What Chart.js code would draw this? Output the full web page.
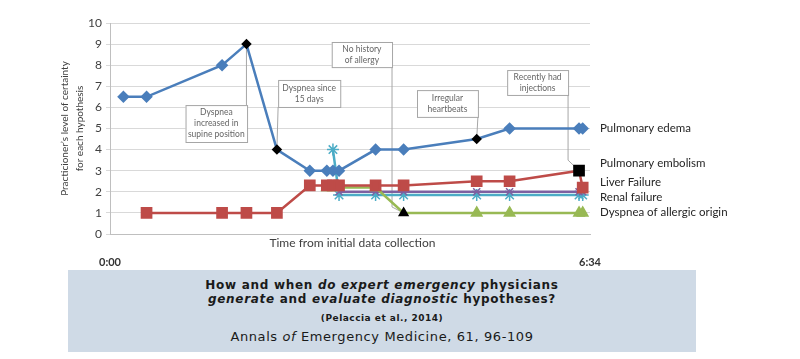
<!DOCTYPE html>
<html>
<head>
<meta charset="utf-8">
<script src="https://cdn.jsdelivr.net/npm/chart.js@4.4.1/dist/chart.umd.min.js"></script>
<style>
  body { margin: 0; background: #fff; }
  #wrap { position: relative; width: 800px; height: 359px; }
  #chartBox { position: absolute; left: 0; top: 0; width: 800px; height: 270px; }
  #ref { position: absolute; left: 68px; top: 270px; width: 628px; height: 82px; background: #cfdae6; color: #1a1a1a; font-family: 'DejaVu Sans', sans-serif; text-align: center; }
  #ref div { position: absolute; left: 0; width: 100%; white-space: nowrap; }
  .l1 { top: 7px; line-height: 16px; font-size: 12px; font-weight: bold; letter-spacing: 0.7px; }
  .l2 { top: 21px; line-height: 16px; font-size: 12px; font-weight: bold; letter-spacing: 0.7px; }
  .l3 { top: 42px; line-height: 12px; font-size: 9px; font-weight: bold; letter-spacing: 0.5px; }
  .l4 { top: 59px; line-height: 16px; font-size: 13px; letter-spacing: 0.6px; }
</style>
</head>
<body>
<div id="wrap">
  <div id="chartBox"><canvas id="timeline"></canvas></div>
  <div id="ref">
    <div class="l1">How and when <i>do expert emergency</i> physicians</div>
    <div class="l2"><i>generate</i> and <i>evaluate diagnostic</i> hypotheses?</div>
    <div class="l3">(Pelaccia et al., 2014)</div>
    <div class="l4">Annals <i>of</i> Emergency Medicine, 61, 96-109</div>
  </div>
</div>
<script>
// time in minutes since initial data collection (0:00 .. 6:34)
const edemaT = [11, 30, 92, 112, 137, 164, 178, 183, 188, 218, 241, 301, 328, 385, 388];
const edemaV = [6.5, 6.5, 8, 9, 4, 3, 3, 3, 3, 4, 4, 4.5, 5, 5, 5];
const liverT = [30, 92, 112, 137, 164, 178, 183, 188, 218, 241, 301, 328, 385, 388];
const liverV = [1, 1, 1, 1, 2.3, 2.3, 2.3, 2.3, 2.3, 2.3, 2.5, 2.5, 3, 2.2];
const allergyT = [178, 183, 218, 241, 301, 328, 385, 388];
const allergyV = [2.2, 2.2, 2.2, 1, 1, 1, 1, 1];
const embolismT = [188, 218, 241, 301, 328, 385, 388];
const embolismV = [2, 2, 2, 2, 2, 2, 2];
const renalT = [183, 188, 218, 241, 301, 328, 385, 388];
const renalV = [4, 1.85, 1.85, 1.85, 1.85, 1.85, 1.85, 1.85];

const timeTicks = [0, 394];
const yTicks = [0, 1, 2, 3, 4, 5, 6, 7, 8, 9, 10];

// labels at the right end of the lines: [text, value]
const endLabels = [
    ['Pulmonary edema', 5.02],
    ['Pulmonary embolism', 3.36],
    ['Liver Failure', 2.45],
    ['Renal failure', 1.75],
    ['Dyspnea of allergic origin', 1.02]
];

// callouts: lines of text, box [t1, t2, vTop, vBottom], leader path in data units
const callouts = [
    { text: ['Dyspnea', 'increased in', 'supine position'], box: [62, 112.5, 6.11, 4.36], path: [[112, 6.11], [112, 9]] },
    { text: ['Dyspnea since', '15 days'], box: [138, 189, 7.3, 6.02], path: [[138, 6.02], [137, 4]] },
    { text: ['No history', 'of allergy'], box: [182, 231.5, 9.1, 7.91], path: [[231.5, 7.91], [231.5, 1.28], [241, 1]] },
    { text: ['Irregular', 'heartbeats'], box: [252, 302, 6.82, 5.55], path: [[302, 5.55], [301, 4.5]] },
    { text: ['Recently had', 'injections'], box: [326, 376, 7.77, 6.59], path: [[376, 6.59], [376, 3.5], [385, 3]] }
];

function pts(t, v) {
    return t.map((x, i) => ({ x: x, y: v[i] }));
}
function fmtTime(m) {
    return Math.floor(m / 60) + ':' + String(m % 60).padStart(2, '0');
}

const markBlack = (n, idx, col) => Array.from({ length: n }, (_, i) => idx.includes(i) ? '#000' : col);

const overlay = {
    id: 'overlay',
    beforeDatasetsDraw(chart) {
        const { ctx, scales: { x, y } } = chart;
        ctx.save();
        ctx.strokeStyle = '#a6a6a6';
        ctx.lineWidth = 1;
        callouts.forEach(c => {
            ctx.beginPath();
            c.path.forEach((p, i) => {
                const px = x.getPixelForValue(p[0]), py = y.getPixelForValue(p[1]);
                if (i === 0) ctx.moveTo(px, py); else ctx.lineTo(px, py);
            });
            ctx.stroke();
            const l = x.getPixelForValue(c.box[0]), r = x.getPixelForValue(c.box[1]);
            const t = y.getPixelForValue(c.box[2]), b = y.getPixelForValue(c.box[3]);
            ctx.fillStyle = '#fff';
            ctx.fillRect(l, t, r - l, b - t);
            ctx.strokeRect(l + 0.5, t + 0.5, r - l, b - t);
            ctx.fillStyle = '#666';
            ctx.font = '8.5px Lato';
            ctx.textAlign = 'center';
            ctx.textBaseline = 'middle';
            const lh = 11, mid = (t + b) / 2;
            c.text.forEach((s, i) => {
                ctx.fillText(s, (l + r) / 2, mid + (i - (c.text.length - 1) / 2) * lh);
            });
        });
        ctx.restore();
    },
    afterDraw(chart) {
        const { ctx, chartArea, scales: { x, y } } = chart;
        ctx.save();
        ctx.fillStyle = '#262626';
        ctx.font = '11.5px Lato';
        ctx.textAlign = 'left';
        ctx.textBaseline = 'middle';
        endLabels.forEach(([s, v]) => ctx.fillText(s, chartArea.right + 10, y.getPixelForValue(v)));

        ctx.fillStyle = '#404040';
        ctx.font = '12px Lato';
        ctx.textAlign = 'center';
        ctx.fillText('Time from initial data collection', x.getPixelForValue(199), chartArea.bottom + 9);

        ctx.translate(72, (chartArea.top + chartArea.bottom) / 2);
        ctx.rotate(-Math.PI / 2);
        ctx.font = '10px Lato';
        ctx.fillText('Practicioner\u2019s level of certainty', 0, -7.5);
        ctx.fillText('for each hypothesis', 0, 7.5);
        ctx.restore();
    }
};

new Chart(document.getElementById('timeline'), {
    type: 'line',
    data: {
        datasets: [{
            label: 'Pulmonary edema',
            data: pts(edemaT, edemaV),
            borderColor: '#4a7ebb',
            borderWidth: 2.5,
            pointStyle: 'rectRot',
            pointRadius: edemaT.map((_, i) => [3, 4, 11].includes(i) ? 3.5 : 4.5),
            pointBackgroundColor: markBlack(edemaT.length, [3, 4, 11], '#4a7ebb'),
            pointBorderColor: markBlack(edemaT.length, [3, 4, 11], '#4a7ebb'),
        }, {
            label: 'Liver Failure',
            data: pts(liverT, liverV),
            borderColor: '#be4b48',
            borderWidth: 2.5,
            pointStyle: 'rect',
            pointRadius: 6.5,
            pointBackgroundColor: markBlack(liverT.length, [12], '#be4b48'),
            pointBorderColor: markBlack(liverT.length, [12], '#be4b48'),
        }, {
            label: 'Dyspnea of allergic origin',
            data: pts(allergyT, allergyV),
            borderColor: '#98b954',
            borderWidth: 2.5,
            pointStyle: 'triangle',
            pointRadius: allergyT.map((_, i) => i === 3 ? 4 : 5),
            pointBackgroundColor: markBlack(allergyT.length, [3], '#98b954'),
            pointBorderColor: markBlack(allergyT.length, [3], '#98b954'),
        }, {
            label: 'Pulmonary embolism',
            data: pts(embolismT, embolismV),
            borderColor: '#7d60a0',
            borderWidth: 2.5,
            pointStyle: 'crossRot',
            pointRadius: 5,
            pointBorderColor: '#7d60a0',
            pointBorderWidth: 1.5,
        }, {
            label: 'Renal failure',
            data: pts(renalT, renalV),
            borderColor: '#4bacc6',
            borderWidth: 2.5,
            pointStyle: 'star',
            pointRadius: 6,
            pointBorderColor: '#4bacc6',
            pointBorderWidth: 1.5,
        }]
    },
    options: {
        responsive: true,
        maintainAspectRatio: false,
        animation: false,
        layout: { padding: { left: 0, right: 210, top: 23, bottom: 0 } },
        elements: { line: { tension: 0 } },
        scales: {
            x: {
                type: 'linear',
                min: 0,
                max: 394,
                afterBuildTicks: (s) => { s.ticks = timeTicks.map(v => ({ value: v })); },
                afterFit: (s) => { s.height = 36; },
                grid: { display: false, drawTicks: false },
                border: { display: true, color: '#bfbfbf' },
                ticks: {
                    padding: 22,
                    maxRotation: 0,
                    autoSkip: false,
                    color: '#333',
                    font: { size: 11, family: 'Lato', weight: 'bold' },
                    callback: (v) => fmtTime(v)
                }
            },
            y: {
                min: 0,
                max: 10,
                afterBuildTicks: (s) => { s.ticks = yTicks.map(v => ({ value: v })); },
                afterFit: (s) => { s.width = 110; },
                grid: { color: '#d9d9d9', tickLength: 4 },
                border: { display: true, color: '#bfbfbf' },
                ticks: {
                    padding: 4,
                    color: '#404040',
                    font: { size: 12, family: 'Lato' }
                }
            }
        },
        plugins: {
            legend: { display: false },
            tooltip: { enabled: false }
        }
    },
    plugins: [overlay]
});
</script>
</body>
</html>
